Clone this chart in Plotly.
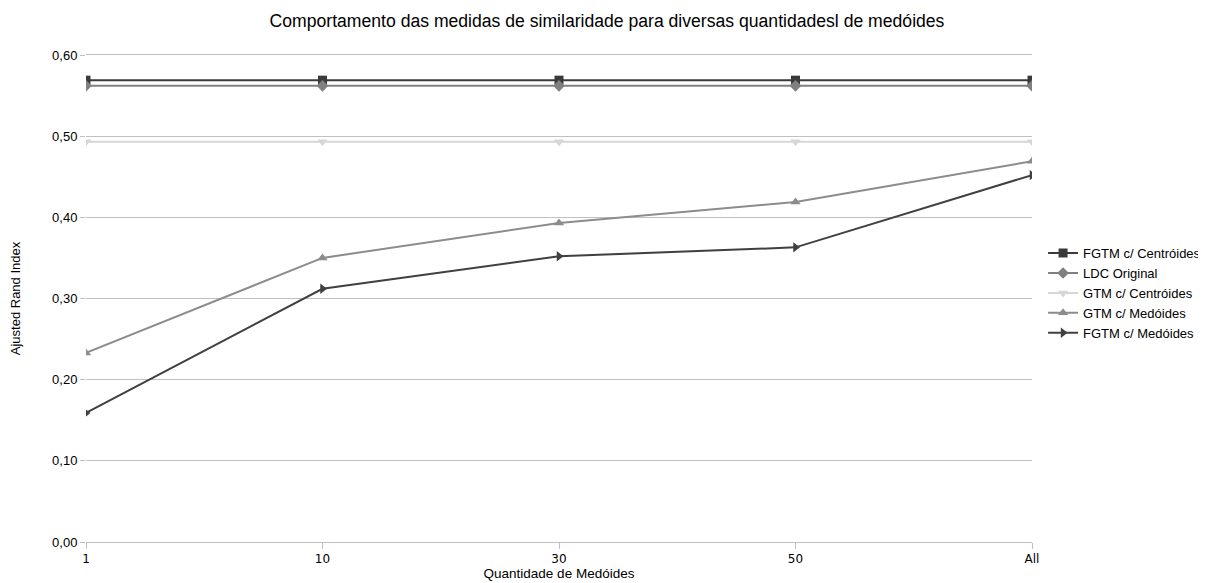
import plotly.graph_objects as go

categories = ["1", "10", "30", "50", "All"]
fgtm_centroides = [0.569, 0.569, 0.569, 0.569, 0.569]
ldc_original = [0.562, 0.562, 0.562, 0.562, 0.562]
gtm_centroides = [0.493, 0.493, 0.493, 0.493, 0.493]
gtm_medoides = [0.233, 0.350, 0.393, 0.419, 0.469]
fgtm_medoides = [0.159, 0.312, 0.352, 0.363, 0.452]

series = [
    ("FGTM c/ Centróides", fgtm_centroides, "#3a3a3a", "square"),
    ("LDC Original", ldc_original, "#808080", "diamond"),
    ("GTM c/ Centróides", gtm_centroides, "#d6d6d6", "triangle-down"),
    ("GTM c/ Medóides", gtm_medoides, "#8c8c8c", "triangle-up"),
    ("FGTM c/ Medóides", fgtm_medoides, "#404040", "triangle-right"),
]

fig = go.Figure()
for name, vals, color, sym in series:
    fig.add_trace(go.Scatter(
        x=list(range(len(categories))), y=vals, name=name, mode="lines+markers",
        line=dict(color=color, width=2), marker=dict(symbol=sym, size=9, color=color),
    ))

# the page body has an 8px margin, so the figure is sized 8px smaller
W, H = 1198, 575
fig.update_layout(
    width=W, height=H,
    paper_bgcolor="white", plot_bgcolor="white",
    font=dict(family="Liberation Sans, Arial", size=13, color="#000"),
    separators=",.",
    title=dict(text="Comportamento das medidas de similaridade para diversas quantidadesl de medóides",
               x=0.5, xanchor="center", y=1 - 13 / H, yanchor="middle", font=dict(size=17.6)),
    margin=dict(l=78, r=174, t=47, b=41, autoexpand=False),
    legend=dict(x=1.0117, xanchor="left", y=0.511, yanchor="middle", font=dict(size=13),
                bgcolor="rgba(0,0,0,0)", tracegroupgap=0, itemwidth=30),
    xaxis=dict(tickmode="array", tickvals=list(range(len(categories))), ticktext=categories,
               range=[0, 4], showgrid=False, showline=True, linecolor="#c0c0c0", mirror=True,
               ticks="outside", ticklen=6, tickcolor="#c0c0c0", zeroline=False, automargin=False,
               tickfont=dict(family="DejaVu Sans", size=12),
               title=dict(text="Quantidade de Medóides", standoff=2, font=dict(size=13.5))),
    yaxis=dict(range=[0, 0.6], dtick=0.1, tickformat=".2f", showgrid=True, gridcolor="#c0c0c0",
               ticks="outside", ticklen=5, tickcolor="#c0c0c0", zeroline=False, automargin=False,
               tickfont=dict(size=13),
               title=dict(text="Ajusted Rand Index", standoff=34, font=dict(size=13))),
)

fig.write_html("out.html")
